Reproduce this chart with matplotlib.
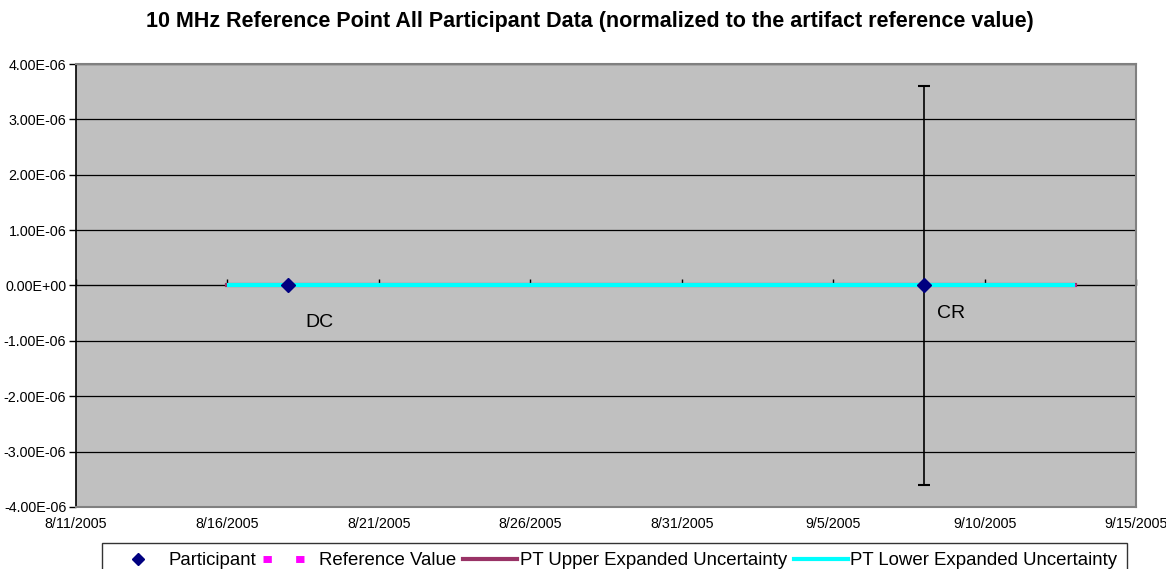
import matplotlib
matplotlib.use("Agg")
import matplotlib.pyplot as plt
import matplotlib.dates as mdates
from matplotlib.lines import Line2D
import numpy as np
import pandas as pd

plt.rcParams['font.family'] = ['Liberation Sans', 'DejaVu Sans']

# ---- data ----
participant_names = ["DC", "CR"]
participant_dates = pd.to_datetime(["2005-08-18", "2005-09-08"])
participant_values = [0.0, 0.0]
participant_unc = [0.0, 3.6e-6]

pt_dates = pd.to_datetime(["2005-08-16", "2005-09-13"])
reference_value = [0.0, 0.0]
pt_upper = [0.0, 0.0]
pt_lower = [0.0, 0.0]

x_tick_dates = pd.date_range("2005-08-11", "2005-09-15", freq="5D")
y_ticks = [-4e-6, -3e-6, -2e-6, -1e-6, 0.0, 1e-6, 2e-6, 3e-6, 4e-6]
y_tick_labels = ["-4.00E-06", "-3.00E-06", "-2.00E-06", "-1.00E-06", "0.00E+00",
                 "1.00E-06", "2.00E-06", "3.00E-06", "4.00E-06"]

title = "10 MHz Reference Point All Participant Data (normalized to the artifact reference value)"

# ---- figure ----
fig = plt.figure(figsize=(11.66, 5.69), dpi=100)
ax = fig.add_axes([0.0652, 0.109, 0.9091, 0.7785])
ax.set_facecolor("#C0C0C0")

ax.set_xlim(x_tick_dates[0], x_tick_dates[-1])
ax.set_ylim(y_ticks[0], y_ticks[-1])

ax.set_yticks(y_ticks)
ax.set_yticklabels(y_tick_labels, fontsize=10.3)
ax.set_xticks(x_tick_dates)
ax.set_xticklabels([f"{d.month}/{d.day}/{d.year}" for d in x_tick_dates], fontsize=10.3)
ax.tick_params(axis="x", length=0, pad=7)
ax.tick_params(axis="y", length=5, width=1, color="black", pad=2)

ax.grid(axis="y", color="black", linewidth=0.9)
ax.set_axisbelow(True)

for s in ["top", "right", "bottom"]:
    ax.spines[s].set_color("#808080")
    ax.spines[s].set_linewidth(1.5)
ax.spines["left"].set_color("black")
ax.spines["left"].set_linewidth(1.2)

# x axis crossing at zero
sec = ax.secondary_xaxis(0.5)
sec.set_xticks(x_tick_dates)
sec.set_xticklabels([])
sec.tick_params(axis="x", direction="out", length=4, width=1, color="black")
sec.spines["bottom"].set_color("black")
sec.spines["bottom"].set_linewidth(1.0)

# series
ax.plot(pt_dates, pt_upper, color="#993366", linewidth=3, zorder=3)
ax.plot(pt_dates, reference_value, color="#FF00FF", linewidth=2, linestyle=(0, (2, 3)), zorder=3)
ax.plot(pt_dates, pt_lower, color="#00FFFF", linewidth=3, zorder=4, solid_capstyle="butt")

ax.errorbar(participant_dates, participant_values, yerr=participant_unc, fmt="none",
            ecolor="black", elinewidth=1.2, capsize=4, capthick=1.5, zorder=5)
ax.plot(participant_dates, participant_values, linestyle="none", marker="D",
        markersize=7, color="#000080", zorder=6)

offsets = [(17, -37), (13, -28)]
for name, d, v, off in zip(participant_names, participant_dates, participant_values, offsets):
    ax.annotate(name, (d, v), xytext=off, textcoords="offset pixels",
                fontsize=14, ha="left", va="center", color="black")

fig.text(0.506, 0.963, title, fontsize=15.5, fontweight="bold", ha="center", va="center")

handles = [
    Line2D([], [], linestyle="none", marker="D", markersize=6, color="#000080"),
    Line2D([], [], color="#FF00FF", linewidth=5, linestyle=(0, (1.2, 3.5))),
    Line2D([], [], color="#993366", linewidth=3),
    Line2D([], [], color="#00FFFF", linewidth=3),
]
labels = ["Participant", "Reference Value", "PT Upper Expanded Uncertainty",
          "PT Lower Expanded Uncertainty"]
leg = fig.legend(handles, labels, loc="upper center", bbox_to_anchor=(0.527, 0.046),
                 ncol=4, fontsize=13.4, frameon=True, fancybox=False, edgecolor="black",
                 handlelength=2.9, handletextpad=0.15, columnspacing=0.35,
                 borderpad=0.5, borderaxespad=0)
leg.get_frame().set_linewidth(1.0)

fig.savefig("out.png", dpi=100)
